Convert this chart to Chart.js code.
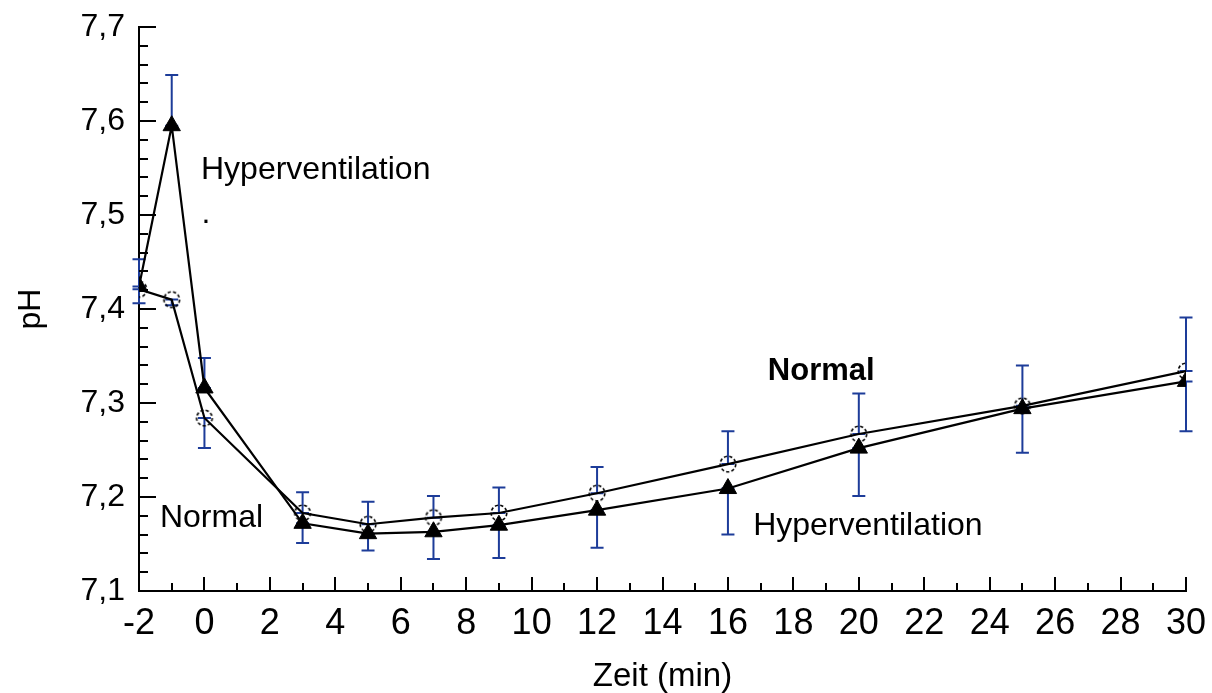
<!DOCTYPE html>
<html>
<head>
<meta charset="utf-8">
<script src="https://cdn.jsdelivr.net/npm/chart.js@4/dist/chart.umd.min.js"></script>
<style>
  html, body { margin: 0; padding: 0; background: #fff; }
  canvas { display: block; }
</style>
</head>
<body>
<canvas id="c" width="1212" height="693"></canvas>
<script>
// ---- data ----
const timeMinutes = [-2, -1, 0, 3, 5, 7, 9, 12, 16, 20, 25, 30];
const hyperventilationPH = [7.424, 7.595, 7.316, 7.172, 7.161, 7.163, 7.170, 7.186, 7.209, 7.252, 7.294, 7.323];
const normalPH = [7.421, 7.410, 7.284, 7.183, 7.171, 7.178, 7.183, 7.204, 7.235, 7.267, 7.297, 7.334];
// error bar end points (one-sided bars as in the figure)
const hyperventilationErrEnd = [7.453, 7.649, 7.348, 7.151, 7.143, 7.134, 7.135, 7.146, 7.160, 7.201, 7.247, 7.270];
const normalErrEnd = [7.406, 7.404, 7.252, 7.205, 7.195, 7.201, 7.210, 7.232, 7.270, 7.310, 7.340, 7.391];
const xTickMin = -2, xTickMax = 30, xTickStep = 2;
const yTickMin = 7.1, yTickMax = 7.7, yTickStep = 0.1;
const annotations = [
  { text: 'Hyperventilation', x: -0.105, y: 7.538, font: '32px "Liberation Sans", Arial, sans-serif' },
  { text: '.', x: -0.09, y: 7.492, font: '32px "Liberation Sans", Arial, sans-serif' },
  { text: 'Normal', x: 17.22, y: 7.3245, font: 'bold 31px "Liberation Sans", Arial, sans-serif' },
  { text: 'Normal', x: -1.36, y: 7.168, font: '32px "Liberation Sans", Arial, sans-serif' },
  { text: 'Hyperventilation', x: 16.77, y: 7.1596, font: '32px "Liberation Sans", Arial, sans-serif' }
];

// dashed open circle marker
function dashedCircle() {
  const c = document.createElement('canvas');
  c.width = 22; c.height = 22;
  const g = c.getContext('2d');
  g.strokeStyle = '#000';
  g.lineWidth = 1.6;
  g.setLineDash([3.2, 2.2]);
  g.beginPath();
  g.arc(11, 11, 7.8, 0, Math.PI * 2);
  g.stroke();
  return c;
}

const errorBarPlugin = {
  id: 'errorBars',
  beforeDatasetsDraw(chart) {
    const ctx = chart.ctx;
    const ys = chart.scales.y;
    ctx.save();
    ctx.strokeStyle = '#1d3c99';
    ctx.lineWidth = 2;
    chart.data.datasets.forEach((ds, i) => {
      const meta = chart.getDatasetMeta(i);
      meta.data.forEach((el, j) => {
        const x = el.x, y0 = el.y, y1 = ys.getPixelForValue(ds.errEnd[j]);
        ctx.beginPath();
        ctx.moveTo(x, y0); ctx.lineTo(x, y1);
        ctx.moveTo(x - 6.5, y0); ctx.lineTo(x + 6.5, y0);
        ctx.moveTo(x - 6.5, y1); ctx.lineTo(x + 6.5, y1);
        ctx.stroke();
      });
    });
    ctx.restore();
  }
};

const tickPlugin = {
  id: 'innerTicks',
  afterDraw(chart) {
    const ctx = chart.ctx, xs = chart.scales.x, ys = chart.scales.y;
    const a = chart.chartArea;
    ctx.save();
    ctx.strokeStyle = '#000';
    ctx.lineWidth = 2;
    ctx.beginPath();
    for (let v = xTickMin; v <= xTickMax; v += 1) {
      const px = Math.round(xs.getPixelForValue(v));
      const len = (v % 2 === 0) ? 14 : 8;
      ctx.moveTo(px, a.bottom); ctx.lineTo(px, a.bottom - len);
    }
    const n = Math.round((yTickMax - yTickMin) / 0.02);
    for (let k = 0; k <= n; k++) {
      const py = Math.round(ys.getPixelForValue(yTickMin + k * 0.02));
      const len = (k % 5 === 0) ? 17 : 9;
      ctx.moveTo(a.left, py); ctx.lineTo(a.left + len, py);
    }
    ctx.stroke();
    ctx.restore();
  }
};

const annotationPlugin = {
  id: 'textNotes',
  afterDatasetsDraw(chart) {
    const ctx = chart.ctx, xs = chart.scales.x, ys = chart.scales.y;
    ctx.save();
    ctx.fillStyle = '#000';
    ctx.textAlign = 'left';
    ctx.textBaseline = 'alphabetic';
    annotations.forEach(t => {
      ctx.font = t.font;
      ctx.fillText(t.text, xs.getPixelForValue(t.x), ys.getPixelForValue(t.y));
    });
    ctx.restore();
  }
};

const circleImg = dashedCircle();

new Chart(document.getElementById('c'), {
  type: 'line',
  data: {
    datasets: [
      {
        label: 'Normal',
        data: timeMinutes.map((t, i) => ({ x: t, y: normalPH[i] })),
        errEnd: normalErrEnd,
        borderColor: '#000', borderWidth: 2.2, tension: 0,
        pointStyle: circleImg, pointRadius: 8,
        backgroundColor: 'transparent'
      },
      {
        label: 'Hyperventilation',
        data: timeMinutes.map((t, i) => ({ x: t, y: hyperventilationPH[i] })),
        errEnd: hyperventilationErrEnd,
        borderColor: '#000', borderWidth: 2.2, tension: 0,
        pointStyle: 'triangle', pointRadius: 10,
        pointBackgroundColor: '#000', pointBorderColor: '#000', pointBorderWidth: 1
      }
    ]
  },
  options: {
    responsive: false,
    devicePixelRatio: 1,
    animation: false,
    layout: { padding: { left: 0, right: 26, top: 27, bottom: 0 } },
    plugins: { legend: { display: false }, tooltip: { enabled: false } },
    scales: {
      x: {
        type: 'linear', min: xTickMin, max: xTickMax,
        afterFit(s) { s.height = 102; s.paddingLeft = 0; s.paddingRight = 0; },
        grid: { display: false, drawTicks: false },
        border: { display: true, color: '#000', width: 2 },
        ticks: {
          stepSize: xTickStep, color: '#000', padding: 11,
          maxRotation: 0, autoSkip: false,
          font: { family: '"Liberation Sans", Arial, sans-serif', size: 36 }
        },
        title: {
          display: true, text: 'Zeit (min)', color: '#000',
          padding: { top: 0, bottom: 0 },
          font: { family: '"Liberation Sans", Arial, sans-serif', size: 33, lineHeight: 1 }
        }
      },
      y: {
        type: 'linear', min: yTickMin, max: yTickMax,
        afterFit(s) { s.width = 139; s.paddingTop = 0; s.paddingBottom = 0; },
        grid: { display: false, drawTicks: false },
        border: { display: true, color: '#000', width: 2 },
        ticks: {
          stepSize: yTickStep, color: '#000', padding: 14,
          callback: v => v.toFixed(1).replace('.', ','),
          font: { family: '"Liberation Sans", Arial, sans-serif', size: 32 }
        },
        title: {
          display: true, text: 'pH', color: '#000',
          padding: { top: 12, bottom: 0 },
          font: { family: '"Liberation Sans", Arial, sans-serif', size: 32 }
        }
      }
    }
  },
  plugins: [errorBarPlugin, tickPlugin, annotationPlugin]
});
</script>
</body>
</html>
